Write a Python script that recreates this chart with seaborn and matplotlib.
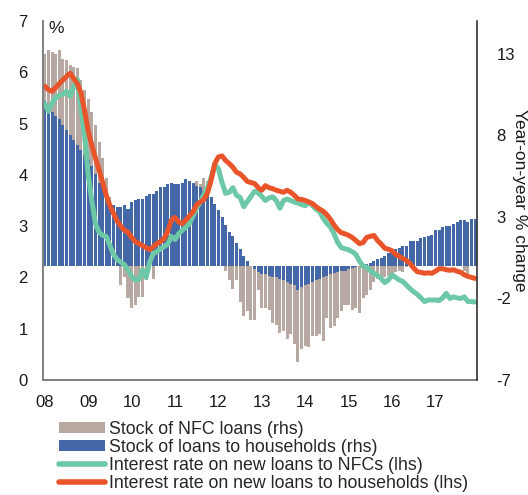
import numpy as np
import pandas as pd
import matplotlib
matplotlib.use("Agg")
import matplotlib.pyplot as plt
import seaborn as sns
from matplotlib.patches import Patch
from matplotlib.lines import Line2D

# ---------------- data (monthly, Jan 2008 - Dec 2017) ----------------
year_labels = ["08", "09", "10", "11", "12", "13", "14", "15", "16", "17"]

# Stock of NFC loans, y-o-y % change (rhs)
nfc_stock = [13.0, 13.2, 13.1, 13.0, 13.2, 12.7, 12.6, 12.3, 12.2, 12.1, 11.4, 10.8,
             10.2, 9.4, 8.6, 7.6, 6.6, 5.4, 4.2, 3.0, 1.5, -1.2, -0.7, -2.0,
             -2.6, -2.4, -1.9, -1.9, -0.9, 0.3, -0.8, 0.5, 1.2, 1.8, 2.4, 3.0,
             3.5, 4.0, 4.5, 5.0, 5.1, 5.0, 5.2, 5.0, 5.4, 5.2, 4.0, 2.5,
             1.5, 0.5, -0.3, -0.9, -1.4, -0.9, -2.2, -3.1, -2.8, -3.3, -3.3, -1.5,
             -2.6, -2.6, -2.7, -3.5, -3.6, -4.1, -4.0, -4.5, -4.2, -4.8, -5.9, -5.1,
             -4.9, -5.0, -4.3, -4.3, -4.2, -4.6, -3.2, -3.8, -3.7, -3.2, -2.8, -2.4,
             -2.4, -2.7, -2.6, -2.9, -2.0, -1.8, -1.5, -1.0, -0.8, -1.0, -0.7, -0.6,
             -0.8, -0.4, -0.3, -0.4, -0.1, 0.3, 0.5, 0.6, 0.8, 0.9, 1.0, 1.2,
             1.3, 1.4, 1.5, 1.6, 1.7, 1.6, 1.8, 1.9, -0.3, -0.5, 1.5, 1.8]

# Stock of loans to households, y-o-y % change (rhs)
hh_stock = [10.1, 9.7, 9.4, 9.2, 9.0, 8.6, 8.3, 8.0, 7.7, 7.4, 7.1, 6.8,
            6.5, 6.1, 5.6, 5.1, 4.8, 4.4, 4.0, 3.7, 3.6, 3.6, 3.7, 3.5,
            3.9, 4.0, 4.1, 4.1, 4.3, 4.4, 4.4, 4.6, 4.8, 4.8, 5.0, 5.1,
            5.0, 5.0, 5.1, 5.3, 5.2, 5.1, 4.9, 4.8, 4.6, 4.5, 4.2, 3.8,
            3.4, 3.0, 2.5, 2.1, 1.8, 1.4, 1.0, 0.6, 0.3, 0.0, -0.2, -0.4,
            -0.5, -0.5, -0.6, -0.7, -0.7, -0.8, -0.9, -1.0, -1.1, -1.2, -1.5, -1.3,
            -1.2, -1.1, -1.0, -0.9, -0.8, -0.7, -0.6, -0.5, -0.45, -0.4, -0.35, -0.3,
            -0.2, -0.15, -0.1, 0.0, 0.05, 0.1, 0.2, 0.3, 0.4, 0.5, 0.6, 0.8,
            1.0, 1.0, 1.1, 1.2, 1.2, 1.5, 1.5, 1.5, 1.7, 1.75, 1.8, 1.9,
            2.2, 2.2, 2.35, 2.45, 2.45, 2.55, 2.7, 2.8, 2.8, 2.7, 2.85, 2.85]

# Interest rate on new loans to NFCs (lhs)
nfc_rate = [5.38, 5.24, 5.40, 5.50, 5.55, 5.57, 5.63, 5.53, 5.72, 5.86, 5.30, 4.75,
            4.00, 3.50, 3.05, 2.88, 2.82, 2.80, 2.62, 2.45, 2.35, 2.30, 2.25, 2.14,
            2.02, 1.95, 1.96, 2.15, 2.00, 2.30, 2.47, 2.50, 2.56, 2.60, 2.65, 2.80,
            2.74, 2.85, 2.92, 2.98, 3.05, 3.20, 3.35, 3.47, 3.62, 3.75, 3.95, 4.20,
            4.12, 3.85, 3.64, 3.66, 3.75, 3.60, 3.56, 3.38, 3.48, 3.58, 3.68, 3.65,
            3.58, 3.50, 3.55, 3.57, 3.50, 3.35, 3.50, 3.53, 3.50, 3.47, 3.45, 3.42,
            3.40, 3.47, 3.40, 3.33, 3.28, 3.15, 3.05, 2.98, 2.85, 2.68, 2.58, 2.56,
            2.54, 2.50, 2.45, 2.32, 2.22, 2.20, 2.13, 2.08, 2.04, 1.98, 1.90, 1.95,
            2.05, 2.00, 1.95, 1.92, 1.85, 1.78, 1.72, 1.67, 1.60, 1.53, 1.56, 1.56,
            1.56, 1.55, 1.60, 1.69, 1.59, 1.62, 1.60, 1.59, 1.62, 1.53, 1.53, 1.52]

# Interest rate on new loans to households (lhs)
hh_rate = [5.73, 5.66, 5.63, 5.70, 5.78, 5.85, 5.92, 5.98, 5.88, 5.78, 5.60, 5.25,
           4.85, 4.58, 4.33, 4.10, 3.85, 3.60, 3.40, 3.25, 3.10, 3.00, 2.92, 2.88,
           2.78, 2.70, 2.66, 2.62, 2.58, 2.54, 2.60, 2.66, 2.70, 2.76, 2.90, 3.12,
           3.17, 3.08, 3.05, 3.12, 3.20, 3.28, 3.42, 3.47, 3.52, 3.65, 3.90, 4.22,
           4.35, 4.37, 4.28, 4.22, 4.15, 4.05, 4.02, 3.95, 3.87, 3.85, 3.83, 3.75,
           3.70, 3.79, 3.75, 3.73, 3.70, 3.68, 3.66, 3.70, 3.66, 3.60, 3.53, 3.52,
           3.50, 3.47, 3.44, 3.38, 3.33, 3.29, 3.22, 3.13, 3.02, 2.93, 2.87, 2.85,
           2.82, 2.78, 2.72, 2.66, 2.68, 2.78, 2.80, 2.82, 2.72, 2.65, 2.57, 2.55,
           2.52, 2.45, 2.41, 2.37, 2.33, 2.27, 2.18, 2.11, 2.10, 2.08, 2.09, 2.08,
           2.12, 2.17, 2.17, 2.15, 2.14, 2.15, 2.12, 2.10, 2.05, 2.02, 2.00, 1.98]

labels = ["Stock of NFC loans (rhs)",
          "Stock of loans to households (rhs)",
          "Interest rate on new loans to NFCs (lhs)",
          "Interest rate on new loans to households (lhs)"]

c_tan = "#B7A9A1"
c_blue = "#4467A8"
c_green = "#6CC8A6"
c_red = "#E9542B"

# ---------------- figure ----------------
sns.set_style("white")
plt.rcParams["font.family"] = ["Liberation Sans", "DejaVu Sans"]
plt.rcParams["font.size"] = 12
plt.rcParams["axes.unicode_minus"] = False

month = np.arange(len(hh_stock))
df = pd.DataFrame({"month": month, "nfc_stock": nfc_stock, "hh_stock": hh_stock,
                   "nfc_rate": nfc_rate, "hh_rate": hh_rate})

fig = plt.figure(figsize=(5.28, 4.95), dpi=100)
ax = fig.add_axes([43 / 528, 1 - 380 / 495, (477 - 43) / 528, (380 - 21) / 495])

# bars (right-hand scale)
sns.barplot(data=df, x="month", y="nfc_stock", ax=ax, color=c_tan, saturation=1,
            width=0.84, native_scale=True, errorbar=None, linewidth=0)
sns.barplot(data=df, x="month", y="hh_stock", ax=ax, color=c_blue, saturation=1,
            width=0.84, native_scale=True, errorbar=None, linewidth=0)
ax.set_ylim(-7, 15)
ax.set_xlim(-0.5, len(month) - 0.5)
ax.set_xticks(month[::12])
ax.set_xticklabels(year_labels)
ax.set_xlabel("")
ax.set_ylabel("")

# lines (left-hand scale)
ax2 = ax.twinx()
sns.lineplot(data=df, x="month", y="nfc_rate", ax=ax2, color=c_green,
             linewidth=3.6, solid_capstyle="round", solid_joinstyle="round")
sns.lineplot(data=df, x="month", y="hh_rate", ax=ax2, color=c_red,
             linewidth=3.6, solid_capstyle="round", solid_joinstyle="round")
ax2.set_ylim(0, 7)
ax2.set_xlim(-0.5, len(month) - 0.5)
ax2.set_xlabel("")
ax2.set_ylabel("")

# tick placement: bars' scale on the right, lines' scale on the left
ax.yaxis.tick_right()
ax.set_yticks([-7, -2, 3, 8, 13])
ax.tick_params(axis="both", length=0, labelsize=12, colors="#1a1a1a")
ax.tick_params(axis="x", pad=11)
ax.tick_params(axis="y", pad=14)
ax2.yaxis.tick_left()
ax2.set_yticks(range(0, 8))
ax2.tick_params(axis="y", length=0, labelsize=12, pad=11, colors="#1a1a1a")

for s in ["top", "left", "right"]:
    ax.spines[s].set_visible(False)
ax.spines["bottom"].set_color("#808080")
ax.spines["bottom"].set_linewidth(1.4)
ax2.spines["top"].set_visible(False)
ax2.spines["bottom"].set_visible(False)
ax2.spines["left"].set_color("#808080")
ax2.spines["left"].set_linewidth(1.4)
ax2.spines["right"].set_color("#333333")
ax2.spines["right"].set_linewidth(1.2)

ax2.text(0.012, 1.0, "%", transform=ax2.transAxes, ha="left", va="top",
         fontsize=12.5, color="#1a1a1a")
fig.text(520 / 528, 1 - 200 / 495, "Year-on-year % change", rotation=270,
         ha="center", va="center", fontsize=12.5, color="#1a1a1a")

handles = [Patch(facecolor=c_tan, edgecolor="none"),
           Patch(facecolor=c_blue, edgecolor="none"),
           Line2D([], [], color=c_green, linewidth=4, solid_capstyle="round"),
           Line2D([], [], color=c_red, linewidth=4, solid_capstyle="round")]
fig.legend(handles, labels, loc="upper left", bbox_to_anchor=(59 / 528, 1 - 421 / 495),
           frameon=False, fontsize=12.8, handlelength=2.6, handleheight=0.55,
           handletextpad=0.2, labelspacing=0.06, borderpad=0, borderaxespad=0)

fig.savefig("out.png", dpi=100)
